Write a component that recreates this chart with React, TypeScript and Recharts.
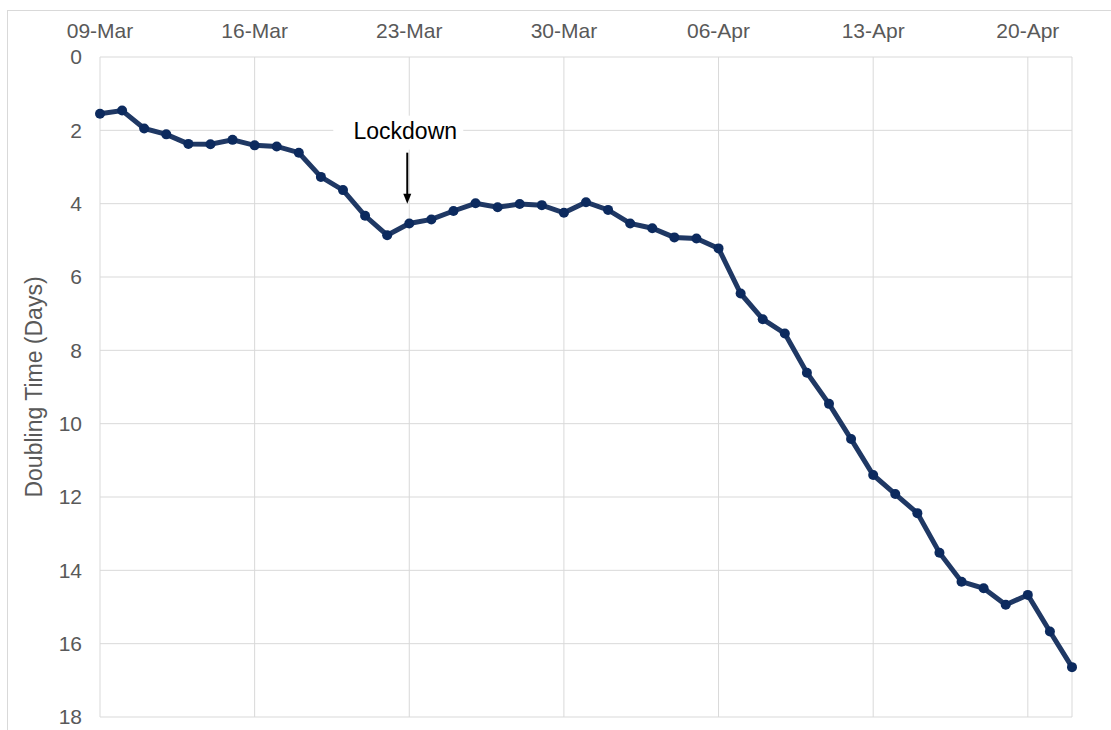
import React from 'react';
import {
  LineChart,
  Line,
  XAxis,
  YAxis,
  CartesianGrid,
  ReferenceDot,
} from 'recharts';

// doubling time in days, one value per day starting 09-Mar
const doublingTime = [
  1.55, 1.46, 1.95, 2.11, 2.37, 2.38, 2.26, 2.41, 2.44, 2.61,
  3.27, 3.63, 4.33, 4.86, 4.54, 4.43, 4.2, 3.99, 4.1, 4.01,
  4.04, 4.25, 3.96, 4.17, 4.54, 4.67, 4.92, 4.95, 5.22, 6.45,
  7.15, 7.54, 8.61, 9.46, 10.42, 11.4, 11.92, 12.44, 13.52, 14.31,
  14.49, 14.94, 14.67, 15.67, 16.64,
];

const xTicks = [0, 7, 14, 21, 28, 35, 42];
const xTickLabels = ['09-Mar', '16-Mar', '23-Mar', '30-Mar', '06-Apr', '13-Apr', '20-Apr'];
const yTicks = [0, 2, 4, 6, 8, 10, 12, 14, 16, 18];

const lockdownDay = 14;
const lockdownValue = 4;

const data = doublingTime.map((v, i) => ({ day: i, value: v }));

const FONT = '"Liberation Sans", Arial, sans-serif';
const GREY = '#595959';

function LockdownMarker(props: any) {
  const { cx, cy } = props;
  if (cx == null || cy == null) return null;
  return (
    <g>
      <rect x={cx - 76} y={cy - 88} width={130} height={34} fill="#fff" />
      <text
        x={cx - 4}
        y={cy - 65}
        textAnchor="middle"
        fontSize={23}
        fontFamily={FONT}
        fill="#000"
      >
        Lockdown
      </text>
      <line x1={cx - 2} y1={cy - 51} x2={cx - 2} y2={cy - 8} stroke="#000" strokeWidth={2} />
      <path d={`M ${cx - 6} ${cy - 10} L ${cx + 2} ${cy - 10} L ${cx - 2} ${cy} Z`} fill="#000" />
    </g>
  );
}

export default function App() {
  return (
    <div style={{ position: 'absolute', left: 0, top: 0, width: 1111, height: 730, background: '#fff' }}>
      <div
        style={{
          position: 'absolute',
          left: 7,
          top: 10,
          width: 1104,
          height: 720,
          borderTop: '1px solid #d9d9d9',
          borderLeft: '1px solid #d9d9d9',
        }}
      />
      <div style={{ position: 'absolute', left: 0, top: 0 }}>
        <LineChart
          width={1111}
          height={730}
          data={data}
          margin={{ top: 17, right: 39, bottom: 13, left: 0 }}
        >
          <CartesianGrid stroke="#d9d9d9" strokeWidth={1} />
          <XAxis
            dataKey="day"
            type="number"
            orientation="top"
            domain={[0, 44]}
            ticks={xTicks}
            tickFormatter={(t) => xTickLabels[xTicks.indexOf(t)] ?? ''}
            height={40}
            axisLine={false}
            tickLine={false}
            tickSize={0}
            tickMargin={19}
            interval={0}
            tick={{ fill: GREY, fontSize: 21, fontFamily: FONT }}
          />
          <YAxis
            reversed
            domain={[0, 18]}
            ticks={yTicks}
            width={100}
            axisLine={false}
            tickLine={false}
            tickSize={0}
            tickMargin={18}
            interval={0}
            tick={{ fill: GREY, fontSize: 21, fontFamily: FONT }}
            label={{
              value: 'Doubling Time (Days)',
              angle: -90,
              position: 'insideLeft',
              offset: 34,
              style: { textAnchor: 'middle', fill: GREY, fontSize: 23, fontFamily: FONT },
            }}
          />
          <ReferenceDot
            x={lockdownDay}
            y={lockdownValue}
            r={0}
            shape={(p: any) => <LockdownMarker {...p} />}
          />
          <Line
            type="linear"
            dataKey="value"
            stroke="#1f3864"
            strokeWidth={5}
            dot={{ r: 5, fill: '#0c2a5e', stroke: '#0c2a5e', strokeWidth: 0 }}
            activeDot={false}
            isAnimationActive={false}
          />
        </LineChart>
      </div>
    </div>
  );
}
